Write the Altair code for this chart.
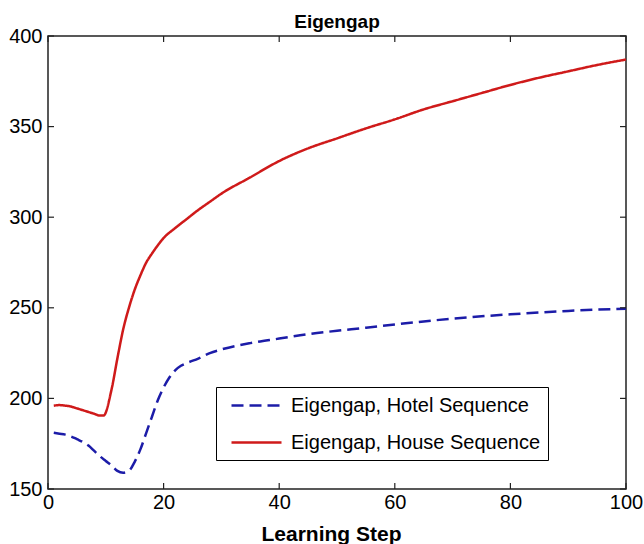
import altair as alt
import pandas as pd

# ---- data ----
series_names = ["Eigengap, Hotel Sequence", "Eigengap, House Sequence"]

steps_hotel = [1, 2, 3, 4, 5, 6, 7, 8, 9, 10, 11, 12, 13, 14, 15, 16, 17, 18, 19, 20,
               21, 22, 23, 24, 26, 28, 30, 35, 40, 45, 50, 55, 60, 65, 70, 75, 80, 85, 90, 95, 100]
eig_hotel = [181, 180.5, 180, 179, 177.5, 176, 174, 171, 168, 165.5, 163, 160, 159, 160, 165,
             172, 181, 190, 199, 206, 211.5, 215.5, 218, 219.5, 222, 225, 227, 230.5, 233,
             235.5, 237.3, 239, 240.8, 242.5, 244, 245.3, 246.4, 247.4, 248.3, 249, 249.5]

steps_house = [1, 2, 3, 4, 5, 6, 7, 8, 9, 9.6, 11, 12, 13, 14, 15, 16, 17, 18, 19, 20,
               22, 24, 26, 28, 30, 35, 40, 45, 50, 55, 60, 65, 70, 75, 80, 85, 90, 95, 100]
eig_house = [196, 196.3, 196, 195.5, 194.5, 193.5, 192.5, 191.5, 190.5, 190.5, 205, 222, 238,
             250, 260, 268, 275, 280, 284.5, 288.5, 294, 299, 304, 308.5, 313, 322, 331, 338,
             343.5, 349, 354, 359.5, 364, 368.5, 373, 377, 380.5, 384, 387]

x_ticks = [0, 20, 40, 60, 80, 100]
y_ticks = [150, 200, 250, 300, 350, 400]

line_colors = ["#1c1ca8", "#cf1a1a"]
line_dashes = [[12, 6], [1, 0]]

# ---- tables ----
df = pd.concat([
    pd.DataFrame({"step": steps_hotel, "value": eig_hotel, "series": series_names[0]}),
    pd.DataFrame({"step": steps_house, "value": eig_house, "series": series_names[1]}),
])
xt = pd.DataFrame({"t": x_ticks})
yt = pd.DataFrame({"t": y_ticks})

W, H = 578, 453
FONT = "Liberation Sans"
TL = 6  # inward tick length

xscale = alt.Scale(domain=[0, 100], nice=False, zero=False)
yscale = alt.Scale(domain=[150, 400], nice=False, zero=False)

legend_opts = dict(title=None, orient="none", legendX=168, legendY=351,
                   symbolType="M-2.5,0H2.5", symbolSize=400, symbolOffset=22,
                   symbolStrokeWidth=2.5, symbolFillColor="transparent",
                   labelFontSize=20, labelFont=FONT, labelColor="#000", labelOffset=23,
                   padding=7, rowPadding=15, fillColor="white",
                   strokeColor="#000", labelLimit=400)

lines = alt.Chart(df).mark_line(strokeWidth=2.5, interpolate="monotone", clip=True).encode(
    x=alt.X("step:Q", scale=xscale,
            axis=alt.Axis(values=x_ticks, title="Learning Step", grid=False, domain=False,
                          ticks=False, labelPadding=3, labelFontSize=20, labelFont=FONT,
                          labelColor="#000", labelFlush=False, labelOverlap=False,
                          titleFontSize=21, titleFont=FONT, titleFontWeight="bold",
                          titleColor="#000", titleBaseline="alphabetic", titleY=51,
                          titleX=283, titleAlign="center")),
    y=alt.Y("value:Q", scale=yscale,
            axis=alt.Axis(values=y_ticks, title=None, grid=False, domain=False, ticks=False,
                          labelPadding=6, labelFontSize=20, labelFont=FONT, labelColor="#000",
                          labelFlush=False, labelOverlap=False)),
    color=alt.Color("series:N", scale=alt.Scale(domain=series_names, range=line_colors),
                    legend=alt.Legend(**legend_opts)),
    strokeDash=alt.StrokeDash("series:N", scale=alt.Scale(domain=series_names, range=line_dashes),
                              legend=alt.Legend(**legend_opts)),
)

tick_style = dict(color="#222", strokeWidth=1.2)
bottom_ticks = alt.Chart(xt).mark_rule(**tick_style).encode(
    x=alt.X("t:Q", scale=xscale), y=alt.value(H), y2=alt.value(H - TL))
top_ticks = alt.Chart(xt).mark_rule(**tick_style).encode(
    x=alt.X("t:Q", scale=xscale), y=alt.value(0), y2=alt.value(TL))
left_ticks = alt.Chart(yt).mark_rule(**tick_style).encode(
    y=alt.Y("t:Q", scale=yscale), x=alt.value(0), x2=alt.value(TL))
right_ticks = alt.Chart(yt).mark_rule(**tick_style).encode(
    y=alt.Y("t:Q", scale=yscale), x=alt.value(W), x2=alt.value(W - TL))

chart = alt.layer(lines, bottom_ticks, top_ticks, left_ticks, right_ticks).properties(
    width=W, height=H,
    title=alt.Title("Eigengap", fontSize=19, font=FONT, fontWeight="bold", color="#000",
                    anchor="middle", baseline="alphabetic", offset=0, dy=21),
    autosize=alt.AutoSizeParams(type="none"),
    padding={"left": 48, "top": 36, "right": 18, "bottom": 55},
    background="white",
).configure_view(stroke="#222", strokeWidth=1.5)

chart.save("out.html", embed_options={"renderer": "svg", "actions": False})
